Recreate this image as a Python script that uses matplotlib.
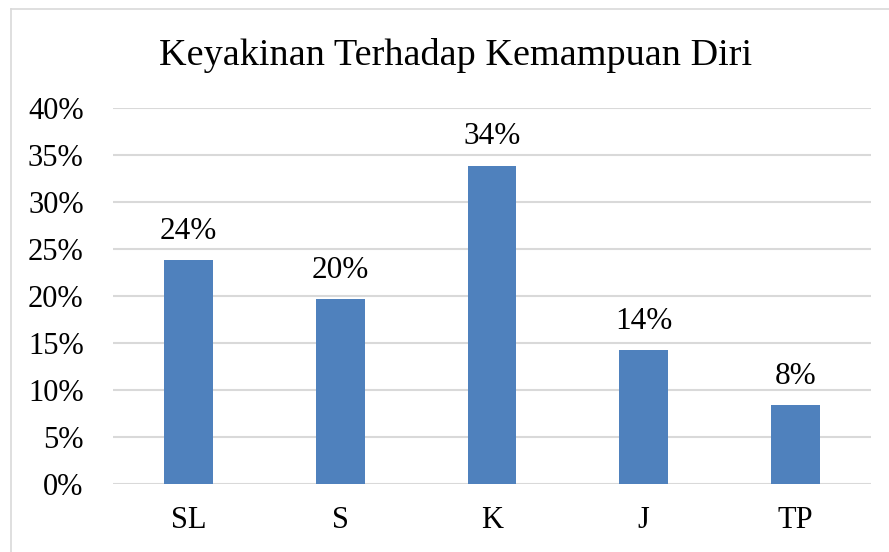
import numpy as np
import matplotlib.pyplot as plt
from matplotlib.lines import Line2D

# data
categories = ['SL', 'S', 'K', 'J', 'TP']
values = [0.238, 0.197, 0.339, 0.143, 0.084]
labels = ['24%', '20%', '34%', '14%', '8%']
yticks = [0, 0.05, 0.10, 0.15, 0.20, 0.25, 0.30, 0.35, 0.40]

plt.rcParams['font.family'] = ['Liberation Serif', 'DejaVu Serif']

fig = plt.figure(figsize=(8.89, 5.52), dpi=100)
ax = fig.add_axes([0.127, 0.123, 0.853, 0.681])

x = np.arange(len(categories))
bars = ax.bar(x, values, width=0.32, color='#4f81bd', zorder=3)

for b, lab in zip(bars, labels):
    ax.text(b.get_x() + b.get_width() / 2, b.get_height() + 0.015, lab,
            ha='center', va='bottom', fontsize=22.5)

ax.set_xlim(-0.5, len(categories) - 0.5)
ax.set_ylim(0, 0.40)
ax.set_yticks(yticks)
ax.set_yticklabels([f'{int(round(t * 100))}%' for t in yticks], fontsize=22)
ax.set_xticks(x)
ax.set_xticklabels(categories, fontsize=22)
ax.tick_params(axis='both', length=0)
ax.tick_params(axis='x', pad=16)
ax.tick_params(axis='y', pad=21)

ax.yaxis.grid(True, color='#d9d9d9', linewidth=1.5, zorder=0)
for s in ax.spines.values():
    s.set_visible(False)

fig.text(0.513, 0.90, 'Keyakinan Terhadap Kemampuan Diri', ha='center', va='center', fontsize=27.5)

# chart frame (top and left edges visible)
fig.lines.append(Line2D([0.0124, 0.0124], [0, 0.983], transform=fig.transFigure,
                        color='#d9d9d9', linewidth=1.2))
fig.lines.append(Line2D([0.0124, 1.0], [0.983, 0.983], transform=fig.transFigure,
                        color='#d9d9d9', linewidth=1.2))

fig.savefig('out.png', dpi=100)
